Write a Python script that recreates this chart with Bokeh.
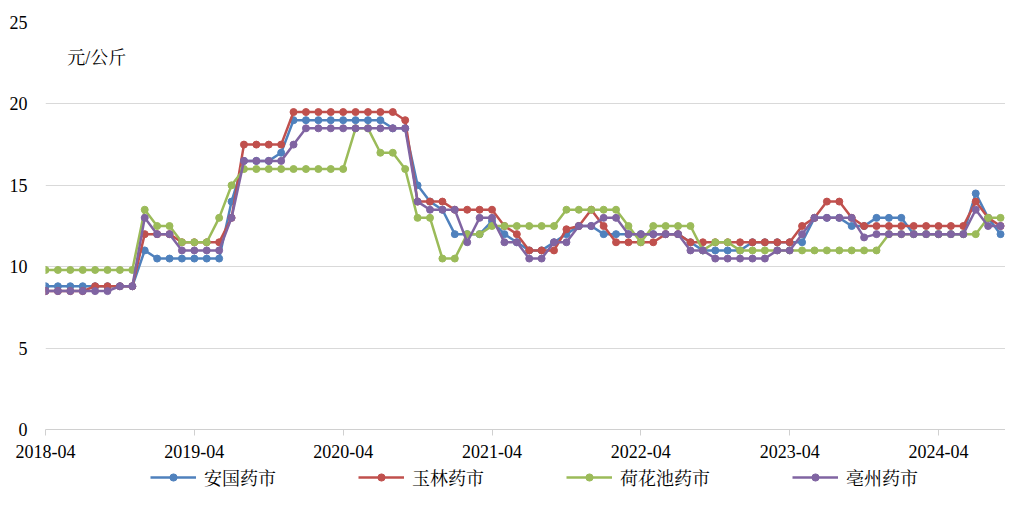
from bokeh.plotting import figure
from bokeh.layouts import column
from bokeh.models import Range1d, FixedTicker, Legend, LegendItem, Label
from bokeh.embed import file_html
from bokeh.resources import INLINE

months = list(range(78))  # 2018-04 .. 2024-09
tick_positions = [0, 12, 24, 36, 48, 60, 72]
tick_labels = ["2018-04", "2019-04", "2020-04", "2021-04", "2022-04", "2023-04", "2024-04"]
y_ticks = [0, 5, 10, 15, 20, 25]

anguo = [8.8, 8.8, 8.8, 8.8, 8.8, 8.8, 8.8, 8.8, 11.0, 10.5,
         10.5, 10.5, 10.5, 10.5, 10.5, 14.0, 16.5, 16.5, 16.5, 17.0,
         19.0, 19.0, 19.0, 19.0, 19.0, 19.0, 19.0, 19.0, 18.5, 18.5,
         15.0, 14.0, 13.5, 12.0, 12.0, 12.0, 12.8, 12.0, 11.5, 11.0,
         11.0, 11.5, 12.0, 12.5, 12.5, 12.0, 12.0, 12.0, 12.0, 12.0,
         12.0, 12.0, 11.5, 11.0, 11.0, 11.0, 11.0, 11.5, 11.5, 11.5,
         11.5, 11.5, 13.0, 13.0, 13.0, 12.5, 12.5, 13.0, 13.0, 13.0,
         12.0, 12.0, 12.0, 12.0, 12.0, 14.5, 13.0, 12.0]
yulin = [8.5, 8.5, 8.5, 8.5, 8.8, 8.8, 8.8, 8.8, 12.0, 12.0,
         12.0, 11.5, 11.5, 11.5, 11.5, 13.0, 17.5, 17.5, 17.5, 17.5,
         19.5, 19.5, 19.5, 19.5, 19.5, 19.5, 19.5, 19.5, 19.5, 19.0,
         14.0, 14.0, 14.0, 13.5, 13.5, 13.5, 13.5, 12.5, 12.0, 11.0,
         11.0, 11.0, 12.3, 12.5, 13.5, 12.5, 11.5, 11.5, 11.5, 11.5,
         12.0, 12.0, 11.5, 11.5, 11.5, 11.5, 11.5, 11.5, 11.5, 11.5,
         11.5, 12.5, 13.0, 14.0, 14.0, 13.0, 12.5, 12.5, 12.5, 12.5,
         12.5, 12.5, 12.5, 12.5, 12.5, 14.0, 13.0, 12.5]
hehuachi = [9.8, 9.8, 9.8, 9.8, 9.8, 9.8, 9.8, 9.8, 13.5, 12.5,
            12.5, 11.5, 11.5, 11.5, 13.0, 15.0, 16.0, 16.0, 16.0, 16.0,
            16.0, 16.0, 16.0, 16.0, 16.0, 18.5, 18.5, 17.0, 17.0, 16.0,
            13.0, 13.0, 10.5, 10.5, 12.0, 12.0, 12.5, 12.5, 12.5, 12.5,
            12.5, 12.5, 13.5, 13.5, 13.5, 13.5, 13.5, 12.5, 11.5, 12.5,
            12.5, 12.5, 12.5, 11.0, 11.5, 11.5, 11.0, 11.0, 11.0, 11.0,
            11.0, 11.0, 11.0, 11.0, 11.0, 11.0, 11.0, 11.0, 12.0, 12.0,
            12.0, 12.0, 12.0, 12.0, 12.0, 12.0, 13.0, 13.0]
bozhou = [8.5, 8.5, 8.5, 8.5, 8.5, 8.5, 8.8, 8.8, 13.0, 12.0,
          12.0, 11.0, 11.0, 11.0, 11.0, 13.0, 16.5, 16.5, 16.5, 16.5,
          17.5, 18.5, 18.5, 18.5, 18.5, 18.5, 18.5, 18.5, 18.5, 18.5,
          14.0, 13.5, 13.5, 13.5, 11.5, 13.0, 13.0, 11.5, 11.5, 10.5,
          10.5, 11.5, 11.5, 12.5, 12.5, 13.0, 13.0, 12.0, 12.0, 12.0,
          12.0, 12.0, 11.0, 11.0, 10.5, 10.5, 10.5, 10.5, 10.5, 11.0,
          11.0, 12.0, 13.0, 13.0, 13.0, 13.0, 11.8, 12.0, 12.0, 12.0,
          12.0, 12.0, 12.0, 12.0, 12.0, 13.5, 12.5, 12.5]

series_names = ["安国药市", "玉林药市", "荷花池药市", "亳州药市"]
series_values = [anguo, yulin, hehuachi, bozhou]
colors = ["#4F81BD", "#C0504D", "#9BBB59", "#8064A2"]
unit_text = "元/公斤"

SERIF = "'Liberation Serif', 'Noto Serif CJK SC', 'Noto Sans CJK SC', serif"

W = 1005
p = figure(width=W, height=465, output_backend="svg", toolbar_location=None,
           x_range=Range1d(0, 77.4), y_range=Range1d(0, 25))
p.min_border_left = 45
p.min_border_top = 22
p.min_border_right = 0
p.min_border_bottom = 36
p.outline_line_color = None
p.background_fill_color = "white"
p.border_fill_color = "white"

p.xgrid.grid_line_color = None
p.ygrid.grid_line_color = "#D9D9D9"
p.ygrid.grid_line_width = 1

p.xaxis.ticker = FixedTicker(ticks=tick_positions)
p.xaxis.major_label_overrides = {t: l for t, l in zip(tick_positions, tick_labels)}
p.xaxis.axis_line_color = "#D0D0D0"
p.xaxis.major_tick_line_color = "#D0D0D0"
p.xaxis.major_tick_out = 6
p.xaxis.major_tick_in = 0
p.xaxis.minor_tick_line_color = None
p.xaxis.major_label_standoff = 9
p.xaxis.major_label_text_font = SERIF
p.xaxis.major_label_text_font_size = "18px"
p.xaxis.major_label_text_color = "#000000"

p.yaxis.ticker = FixedTicker(ticks=y_ticks)
p.yaxis.axis_line_color = None
p.yaxis.major_tick_line_color = None
p.yaxis.minor_tick_line_color = None
p.yaxis.major_label_standoff = 12
p.yaxis.major_label_text_font = SERIF
p.yaxis.major_label_text_font_size = "18px"
p.yaxis.major_label_text_color = "#000000"

for vals, c in zip(series_values, colors):
    p.line(months, vals, line_color=c, line_width=2.5)
    p.scatter(months, vals, size=7, fill_color=c, line_color=c)

p.add_layout(Label(x=1.75, y=22.85, text=unit_text, text_font=SERIF,
                   text_font_size="18px", text_baseline="middle",
                   text_align="left", text_color="#000000"))

# legend strip below the chart (its series lie outside its visible range)
lg = figure(width=W, height=26, output_backend="svg", toolbar_location=None,
            x_range=Range1d(1000, 1001), y_range=Range1d(1000, 1001),
            x_axis_type=None, y_axis_type=None)
lg.min_border_left = 0
lg.min_border_right = 0
lg.min_border_top = 0
lg.min_border_bottom = 0
lg.outline_line_color = None
lg.border_fill_color = "white"
lg.background_fill_color = "white"

items = []
for name, vals, c in zip(series_names, series_values, colors):
    lr = lg.line(months, vals, line_color=c, line_width=2.5)
    sr = lg.scatter(months, vals, size=7, fill_color=c, line_color=c)
    items.append(LegendItem(label=name, renderers=[lr, sr]))

legend = Legend(items=items, orientation="horizontal", location=(105, 1),
                glyph_width=46, glyph_height=18, spacing=82, label_standoff=8,
                padding=2, margin=0, border_line_color=None,
                background_fill_alpha=0,
                label_text_font=SERIF, label_text_font_size="18px",
                label_text_color="#000000")
lg.add_layout(legend)

layout = column(p, lg, spacing=0)
open("out.html", "w").write(file_html(layout, INLINE))
